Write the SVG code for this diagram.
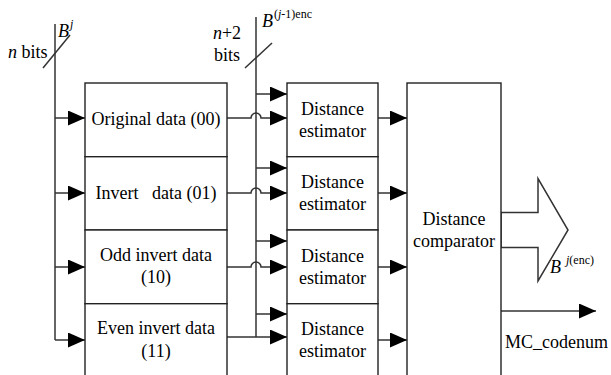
<svg xmlns="http://www.w3.org/2000/svg" width="611" height="375" viewBox="0 0 611 375">
<defs>
<style>
.box{fill:#fff;stroke:#222;stroke-width:1.4}
.ln{fill:none;stroke:#333;stroke-width:1.5}
text{font-family:'Liberation Serif','DejaVu Serif','Times New Roman',serif;font-size:18px;fill:#000}
.c{text-anchor:middle}
.s{font-size:12px}
.i{font-style:italic}
</style>
<marker id="ah" markerUnits="userSpaceOnUse" markerWidth="18" markerHeight="16" refX="17" refY="7.5" orient="auto">
<path d="M0,0 L17,7.5 L0,15 Z" fill="#000"/>
</marker>
</defs>
<rect width="611" height="375" fill="#fff"/>

<g id="bus-labels">
<text x="8" y="58"><tspan class="i">n</tspan> bits</text>
<text x="58" y="37"><tspan class="i">B</tspan><tspan class="s i" dx="1" dy="-9">j</tspan></text>
<text class="c" x="227" y="39"><tspan class="i">n</tspan>+2</text>
<text class="c" x="227" y="61">bits</text>
<text x="262" y="27"><tspan class="i">B</tspan><tspan class="s" dx="1" dy="-9">(<tspan class="i">j</tspan>-1)enc</tspan></text>
</g>

<g id="connectors">
<line class="ln" x1="55" y1="24" x2="55" y2="340"/>
<line class="ln" x1="43" y1="68" x2="70" y2="35"/>
<line class="ln" x1="256" y1="17" x2="256" y2="337"/>
<line class="ln" x1="245" y1="68" x2="272" y2="43"/>
<line class="ln" x1="55" y1="118" x2="85" y2="118" marker-end="url(#ah)"/>
<line class="ln" x1="55" y1="193" x2="85" y2="193" marker-end="url(#ah)"/>
<line class="ln" x1="55" y1="267" x2="85" y2="267" marker-end="url(#ah)"/>
<line class="ln" x1="55" y1="340" x2="85" y2="340" marker-end="url(#ah)"/>
<line class="ln" x1="256" y1="94" x2="287" y2="94" marker-end="url(#ah)"/>
<line class="ln" x1="256" y1="168" x2="287" y2="168" marker-end="url(#ah)"/>
<line class="ln" x1="256" y1="241" x2="287" y2="241" marker-end="url(#ah)"/>
<line class="ln" x1="256" y1="314" x2="287" y2="314" marker-end="url(#ah)"/>
<path class="ln" d="M227,118 H251 A5,5 0 0 1 261,118 H287" marker-end="url(#ah)"/>
<path class="ln" d="M227,193 H251 A5,5 0 0 1 261,193 H287" marker-end="url(#ah)"/>
<path class="ln" d="M227,267 H251 A5,5 0 0 1 261,267 H287" marker-end="url(#ah)"/>
<line class="ln" x1="227" y1="337" x2="287" y2="337" marker-end="url(#ah)"/>
<line class="ln" x1="378" y1="118" x2="407" y2="118" marker-end="url(#ah)"/>
<line class="ln" x1="378" y1="193" x2="407" y2="193" marker-end="url(#ah)"/>
<line class="ln" x1="378" y1="267" x2="407" y2="267" marker-end="url(#ah)"/>
<line class="ln" x1="378" y1="340" x2="407" y2="340" marker-end="url(#ah)"/>
<polygon class="ln" points="501,212.5 538,212.5 538,178.5 568,230 538,281 538,247.5 501,247.5" fill="#fff"/>
<line class="ln" x1="501" y1="311" x2="596" y2="311" marker-end="url(#ah)"/>
</g>

<g id="original-data">
<rect class="box" x="85" y="83" width="142" height="73.7"/>
<text class="c" x="156" y="125">Original data (00)</text>
</g>
<g id="invert-data">
<rect class="box" x="85" y="156.7" width="142" height="73.3"/>
<text class="c" x="156" y="199" xml:space="preserve" style="white-space:pre">Invert   data (01)</text>
</g>
<g id="odd-invert-data">
<rect class="box" x="85" y="230" width="142" height="73.7"/>
<text class="c" x="156" y="261">Odd invert data</text>
<text class="c" x="156" y="283">(10)</text>
</g>
<g id="even-invert-data">
<rect class="box" x="85" y="303.7" width="142" height="75"/>
<text class="c" x="156" y="334">Even invert data</text>
<text class="c" x="156" y="357">(11)</text>
</g>

<g id="estimator-1">
<rect class="box" x="287" y="83" width="91" height="73.7"/>
<text class="c" x="332.5" y="115">Distance</text>
<text class="c" x="332.5" y="137">estimator</text>
</g>
<g id="estimator-2">
<rect class="box" x="287" y="156.7" width="91" height="73.3"/>
<text class="c" x="332.5" y="188">Distance</text>
<text class="c" x="332.5" y="210">estimator</text>
</g>
<g id="estimator-3">
<rect class="box" x="287" y="230" width="91" height="73.7"/>
<text class="c" x="332.5" y="262">Distance</text>
<text class="c" x="332.5" y="284">estimator</text>
</g>
<g id="estimator-4">
<rect class="box" x="287" y="303.7" width="91" height="75"/>
<text class="c" x="332.5" y="335">Distance</text>
<text class="c" x="332.5" y="357">estimator</text>
</g>

<g id="comparator">
<rect class="box" x="407" y="83" width="94" height="296"/>
<text class="c" x="454" y="225">Distance</text>
<text class="c" x="454" y="247">comparator</text>
</g>

<g id="output-labels">
<text x="550" y="273"><tspan class="i">B</tspan><tspan class="s" dx="5" dy="-9"><tspan class="i">j</tspan>(enc)</tspan></text>
<text x="505" y="348">MC_codenum</text>
</g>
</svg>
